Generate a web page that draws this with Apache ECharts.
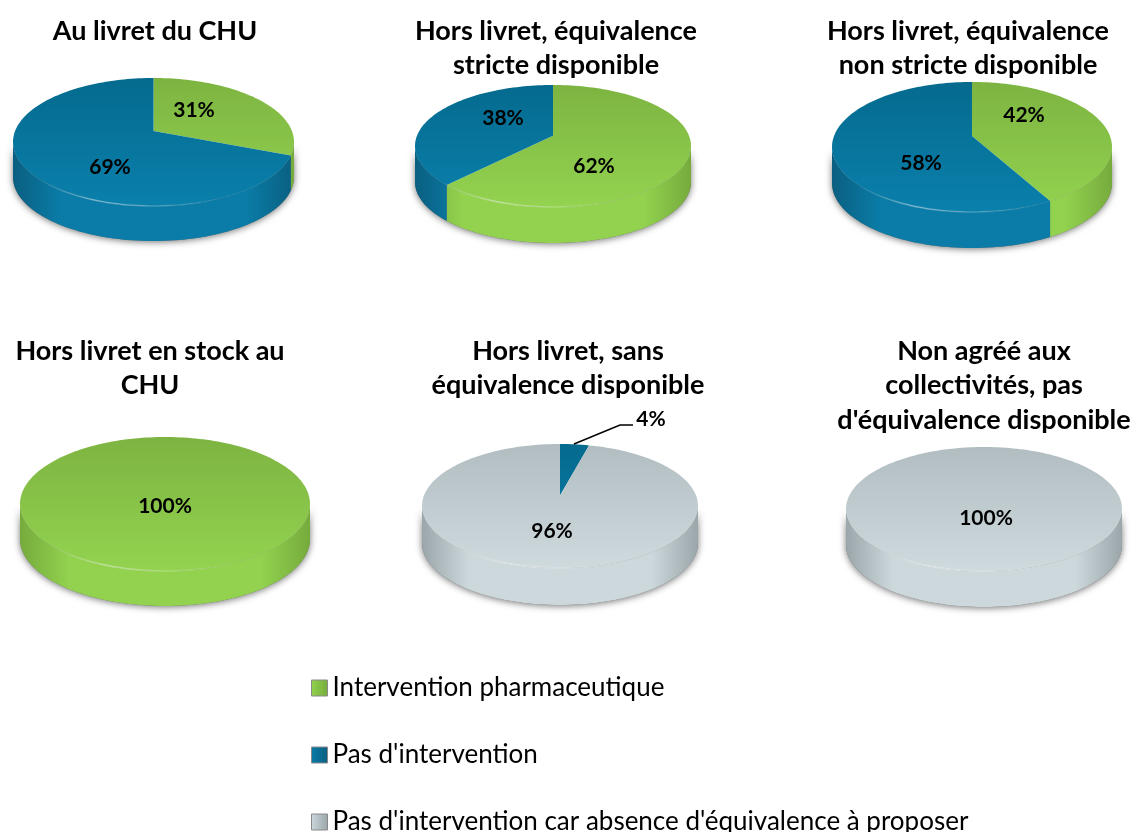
<!DOCTYPE html>
<html>
<head>
<meta charset="utf-8">
<title>Interventions pharmaceutiques</title>
<script src="https://cdn.jsdelivr.net/npm/echarts@6/dist/echarts.min.js"></script>
<style>
  html, body { margin: 0; padding: 0; background: #fff; }
  #main { width: 1134px; height: 832px; }
</style>
</head>
<body>
<div id="main"></div>
<script>
// data
const pieTitles = [
  "Au livret du CHU",
  "Hors livret, équivalence\nstricte disponible",
  "Hors livret, équivalence\nnon stricte disponible",
  "Hors livret en stock au\nCHU",
  "Hors livret, sans\néquivalence disponible",
  "Non agréé aux\ncollectivités, pas\nd'équivalence disponible",
];
const categories = [
  "Intervention pharmaceutique",
  "Pas d'intervention",
  "Pas d'intervention car absence d'équivalence à proposer",
];
const interventionValues = [31, 62, 42, 100, 0, 0];
const noInterventionValues = [69, 38, 58, 0, 4, 0];
const noEquivalenceValues = [0, 0, 0, 0, 96, 100];
const seriesValues = [interventionValues, noInterventionValues, noEquivalenceValues];

// layout of each pie: ellipse centre, radii, thickness
const pieLayout = [
  { cx: 153.5, cy: 142, rx: 140.5, ry: 64, depth: 35 },
  { cx: 553, cy: 146, rx: 138, ry: 61, depth: 36 },
  { cx: 972, cy: 147, rx: 140, ry: 65, depth: 36 },
  { cx: 165, cy: 504, rx: 145, ry: 67, depth: 35 },
  { cx: 560, cy: 506, rx: 138, ry: 62, depth: 37 },
  { cx: 984, cy: 509, rx: 138, ry: 62, depth: 36 },
];
const titleLayout = [
  { x: 155, y: 14 }, { x: 556, y: 14 }, { x: 968, y: 14 },
  { x: 150, y: 334 }, { x: 568, y: 334 }, { x: 984, y: 334 },
];
// label centres, per pie then category
const labelLayout = [
  [[194, 110], [110, 167], null],
  [[594, 166], [503, 118], null],
  [[1024, 115], [921, 163], null],
  [[165, 506], null, null],
  [null, [651, 419], [552, 531]],
  [null, null, [986, 518]],
];
const leaderLine = { pie: 4, category: 1, points: [[574, 444], [620, 425], [633, 425]] };
const legendTops = [675, 742, 809];

const palette = [
  { faceTop: "#7db441", faceBottom: "#93d350", edge: "#76ab3c", mid: "#92d24f" },
  { faceTop: "#056a8e", faceBottom: "#0a80ac", edge: "#0a5f80", mid: "#0a7ca7" },
  { faceTop: "#b2bdc1", faceBottom: "#cfdade", edge: "#9aa6aa", mid: "#cdd8dc" },
];

const PERSPECTIVE = -0.17; // pie apex sits above the ellipse centre
const linear = echarts.graphic.LinearGradient;

// share in percent (clockwise from 12 o'clock) -> pixel on the rim, through a perspective map
function project(p, share, radius) {
  const a = (share / 100) * Math.PI * 2;
  const u = radius * Math.sin(a);
  const v = -radius * Math.cos(a);
  const k = 1 + PERSPECTIVE * v;
  const X = (u * Math.sqrt(1 - PERSPECTIVE * PERSPECTIVE)) / k;
  const Y = (v + PERSPECTIVE) / k;
  return [p.cx + X * p.rx, p.cy + Y * p.ry, Y];
}

function rimPoints(p, from, to) {
  const pts = [];
  const n = Math.max(2, Math.ceil((to - from) * 2));
  for (let i = 0; i <= n; i++) {
    pts.push(project(p, from + ((to - from) * i) / n, 1));
  }
  return pts;
}

function wallShape(p, from, to) {
  const front = rimPoints(p, from, to).filter((d) => d[2] >= 0);
  if (front.length < 2) return null;
  const top = front.map((d) => [d[0], d[1]]);
  const bottom = front.map((d) => [d[0], d[1] + p.depth]).reverse();
  return top.concat(bottom);
}

function renderShadow(params, api) {
  const p = pieLayout[api.value(0)];
  return {
    type: "polygon",
    silent: true,
    shape: { points: wallShape(p, 0, 100) },
    style: { fill: "#6f6f6f", shadowBlur: 7, shadowColor: "rgba(0,0,0,0.55)", shadowOffsetY: 1 },
  };
}

function renderWall(cat) {
  return function (params, api) {
    const p = pieLayout[api.value(0)];
    const from = api.value(2);
    const shape = wallShape(p, from, from + api.value(1));
    if (!shape) return { type: "group", children: [] };
    const c = palette[cat];
    const left = p.cx - p.rx;
    const right = p.cx + p.rx;
    return {
      type: "polygon",
      silent: true,
      shape: { points: shape },
      style: {
        fill: new linear(left, 0, right, 0, [
          { offset: 0, color: c.edge },
          { offset: 0.17, color: c.mid },
          { offset: 0.83, color: c.mid },
          { offset: 1, color: c.edge },
        ], true),
      },
    };
  };
}

function renderFace(cat) {
  return function (params, api) {
    const pie = api.value(0);
    const p = pieLayout[pie];
    const from = api.value(2);
    const value = api.value(1);
    const c = palette[cat];
    const raw = rimPoints(p, from, from + value);
    const rim = raw.map((d) => [d[0], d[1]]);
    const apex = project(p, 0, 0);
    const children = [];
    children.push({
      type: "polygon",
      shape: { points: value >= 100 ? rim : [[apex[0], apex[1]]].concat(rim) },
      style: {
        fill: new linear(0, p.cy - p.ry, 0, p.cy + p.ry, [
          { offset: 0, color: c.faceTop },
          { offset: 1, color: c.faceBottom },
        ], true),
      },
    });
    // thin highlight along the front edge
    const front = rim.filter((d, i) => raw[i][2] > 0.55);
    if (front.length > 1) {
      children.push({
        type: "polyline",
        shape: { points: front },
        style: {
          fill: null,
          lineWidth: 1.5,
          stroke: new linear(p.cx - p.rx * 0.8, 0, p.cx + p.rx * 0.5, 0, [
            { offset: 0, color: "rgba(255,255,255,0)" },
            { offset: 0.3, color: "rgba(255,255,255,0.4)" },
            { offset: 1, color: "rgba(255,255,255,0)" },
          ], true),
        },
        z2: 2,
      });
    }
    const at = labelLayout[pie][cat];
    if (at) {
      children.push({
        type: "text",
        z2: 10,
        style: {
          x: at[0],
          y: at[1],
          text: value + "%",
          fill: "#000",
          font: "bold 21px Lato",
          align: "center",
          verticalAlign: "middle",
        },
      });
    }
    if (leaderLine.pie === pie && leaderLine.category === cat) {
      children.push({
        type: "polyline",
        z2: 10,
        shape: { points: leaderLine.points },
        style: { fill: null, stroke: "#000", lineWidth: 1.5 },
      });
    }
    return { type: "group", silent: true, children: children };
  };
}

// one row per slice: [pie, value, cumulated start]
function sliceRows(cat) {
  return seriesValues[cat]
    .map((v, pie) => {
      let start = 0;
      for (let i = 0; i < cat; i++) start += seriesValues[i][pie];
      return [pie, v, start];
    })
    .filter((row) => row[1] > 0);
}

const series = [
  {
    type: "custom",
    name: "ombre",
    coordinateSystem: "none",
    z: 1,
    silent: true,
    renderItem: renderShadow,
    data: pieTitles.map((t, i) => [i]),
  },
];
categories.forEach((name, cat) => {
  const rows = sliceRows(cat);
  const marker = { color: palette[cat].mid };
  series.push({
    type: "custom", name: name, coordinateSystem: "none", z: 2, silent: true,
    itemStyle: marker, renderItem: renderWall(cat), data: rows,
  });
  series.push({
    type: "custom", name: name, coordinateSystem: "none", z: 3, silent: true,
    itemStyle: marker, renderItem: renderFace(cat), data: rows,
  });
});

const chart = echarts.init(document.getElementById("main"), null, { renderer: "canvas" });
chart.setOption({
  animation: false,
  backgroundColor: "#fff",
  title: pieTitles.map((text, i) => ({
    text: text,
    left: titleLayout[i].x,
    top: titleLayout[i].y,
    textAlign: "center",
    padding: 0,
    textStyle: {
      fontFamily: "Lato",
      fontWeight: "bold",
      fontSize: 27,
      lineHeight: 34.5,
      color: "#000",
    },
  })),
  // one legend per row, the rows are far apart
  legend: categories.map((name, cat) => ({
    orient: "vertical",
    left: 311,
    top: legendTops[cat],
    padding: 0,
    itemWidth: 16,
    itemHeight: 16,
    selectedMode: false,
    icon: "rect",
    textStyle: { fontFamily: "Lato", fontSize: 26, lineHeight: 26, color: "#000" },
    data: [{
      name: name,
      itemStyle: {
        color: new linear(0, 0, 1, 0, [
          { offset: 0, color: palette[cat].mid },
          { offset: 1, color: palette[cat].edge },
        ]),
        borderColor: "#8a8a8a",
        borderWidth: 1,
      },
    }],
  })),
  series: series,
});
</script>
</body>
</html>
